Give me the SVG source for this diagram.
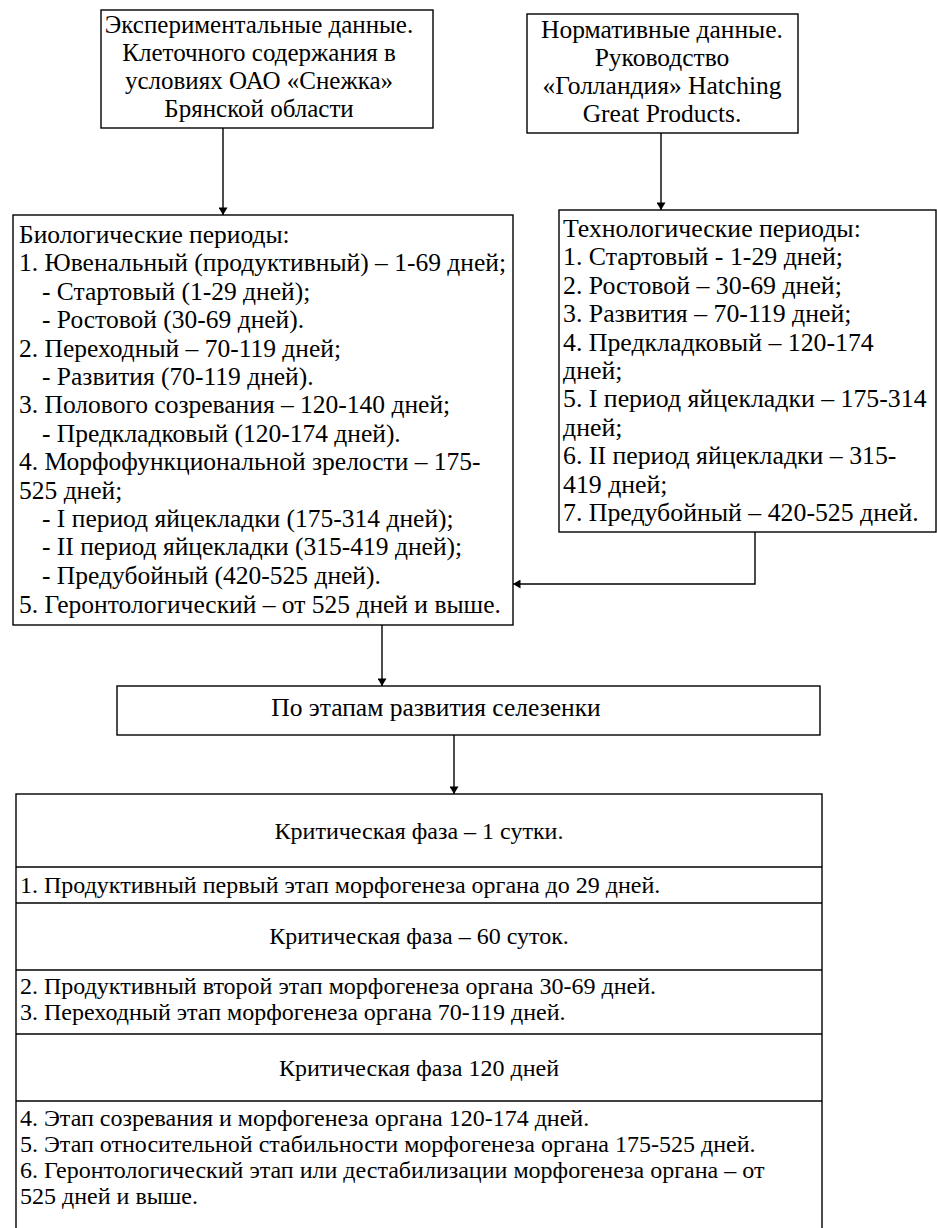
<svg xmlns="http://www.w3.org/2000/svg" width="937" height="1228" viewBox="0 0 937 1228">
<defs>
<style>
.box{fill:#fff;stroke:#000;stroke-width:1.4}
.sep{stroke:#000;stroke-width:1.4}
.t{font-size:25.5px;fill:#000}
.tl{font-size:25px;fill:#000}
.tt{font-size:25.8px;fill:#000}
.c{text-anchor:middle}
.lt{font-size:24px;fill:#000}
.ln{fill:none;stroke:#000;stroke-width:1.4}
</style>
<marker id="ah" viewBox="0 0 10 12" refX="10" refY="6" markerWidth="10" markerHeight="9" markerUnits="userSpaceOnUse" orient="auto">
<path d="M0,0 L10,6 L0,12 z" fill="#000"/>
</marker>
</defs>
<rect width="937" height="1228" fill="#fff"/>
<g font-family="'Liberation Serif', 'Times New Roman', 'DejaVu Serif', serif">
<g id="exp">
<rect class="box" x="101" y="10" width="332" height="118"/>
<text class="tl c" x="259" y="33">Экспериментальные данные.</text>
<text class="tl c" x="259" y="61">Клеточного содержания в</text>
<text class="tl c" x="259" y="89">условиях ОАО «Снежка»</text>
<text class="tl c" x="259" y="117">Брянской области</text>
</g>

<g id="norm">
<rect class="box" x="527" y="14" width="271" height="119"/>
<text class="t c" x="662" y="38">Нормативные данные.</text>
<text class="t c" x="662" y="66">Руководство</text>
<text class="t c" x="662" y="94">«Голландия» Hatching</text>
<text class="t c" x="662" y="122">Great Products.</text>
</g>

<g id="bio">
<rect class="box" x="13" y="215" width="500" height="410"/>
<text class="t" x="19" y="243">Биологические периоды:</text>
<text class="t" x="19" y="271">1. Ювенальный (продуктивный) – 1-69 дней;</text>
<text class="t" x="42" y="300">- Стартовый (1-29 дней);</text>
<text class="t" x="42" y="328">- Ростовой (30-69 дней).</text>
<text class="t" x="19" y="357">2. Переходный – 70-119 дней;</text>
<text class="t" x="42" y="385">- Развития (70-119 дней).</text>
<text class="t" x="19" y="413">3. Полового созревания – 120-140 дней;</text>
<text class="t" x="42" y="442">- Предкладковый (120-174 дней).</text>
<text class="t" x="19" y="470">4. Морфофункциональной зрелости – 175-</text>
<text class="t" x="19" y="499">525 дней;</text>
<text class="t" x="42" y="527">- I период яйцекладки (175-314 дней);</text>
<text class="t" x="42" y="555">- II период яйцекладки (315-419 дней);</text>
<text class="t" x="42" y="584">- Предубойный (420-525 дней).</text>
<text class="t" x="19" y="613">5. Геронтологический – от 525 дней и выше.</text>
</g>

<g id="tech">
<rect class="box" x="559" y="210" width="377" height="322"/>
<text class="tt" x="563" y="237">Технологические периоды:</text>
<text class="tt" x="563" y="265">1. Стартовый - 1-29 дней;</text>
<text class="tt" x="563" y="294">2. Ростовой – 30-69 дней;</text>
<text class="tt" x="563" y="322">3. Развития – 70-119 дней;</text>
<text class="tt" x="563" y="351">4. Предкладковый – 120-174</text>
<text class="tt" x="563" y="379">дней;</text>
<text class="tt" x="563" y="407">5. I период яйцекладки – 175-314</text>
<text class="tt" x="563" y="436">дней;</text>
<text class="tt" x="563" y="464">6. II период яйцекладки – 315-</text>
<text class="tt" x="563" y="493">419 дней;</text>
<text class="tt" x="563" y="521">7. Предубойный – 420-525 дней.</text>
</g>

<g id="stages">
<rect class="box" x="117" y="686" width="703" height="49"/>
<text class="t c" x="436" y="716">По этапам развития селезенки</text>
</g>

<g id="phases">
<rect class="box" x="16" y="794" width="806" height="440"/>
<line class="sep" x1="16" y1="867" x2="822" y2="867"/>
<line class="sep" x1="16" y1="903" x2="822" y2="903"/>
<line class="sep" x1="16" y1="970" x2="822" y2="970"/>
<line class="sep" x1="16" y1="1034" x2="822" y2="1034"/>
<line class="sep" x1="16" y1="1101" x2="822" y2="1101"/>
<text class="lt c" x="419" y="839">Критическая фаза – 1 сутки.</text>
<text class="lt" x="20" y="893">1. Продуктивный первый этап морфогенеза органа до 29 дней.</text>
<text class="lt c" x="419" y="944">Критическая фаза – 60 суток.</text>
<text class="lt" x="20" y="994">2. Продуктивный второй этап морфогенеза органа 30-69 дней.</text>
<text class="lt" x="20" y="1020">3. Переходный этап морфогенеза органа 70-119 дней.</text>
<text class="lt c" x="419" y="1076">Критическая фаза 120 дней</text>
<text class="lt" x="20" y="1126">4. Этап созревания и морфогенеза органа 120-174 дней.</text>
<text class="lt" x="20" y="1152">5. Этап относительной стабильности морфогенеза органа 175-525 дней.</text>
<text class="lt" x="20" y="1178">6. Геронтологический этап или дестабилизации морфогенеза органа – от</text>
<text class="lt" x="20" y="1204">525 дней и выше.</text>
</g>
</g>
<g id="connectors">
<line class="ln" x1="223" y1="128" x2="223" y2="215" marker-end="url(#ah)"/>
<line class="ln" x1="661" y1="133" x2="661" y2="210" marker-end="url(#ah)"/>
<path class="ln" d="M755,532 V584 H513" marker-end="url(#ah)"/>
<line class="ln" x1="382" y1="625" x2="382" y2="686" marker-end="url(#ah)"/>
<line class="ln" x1="454" y1="735" x2="454" y2="794" marker-end="url(#ah)"/>
</g>
</svg>
